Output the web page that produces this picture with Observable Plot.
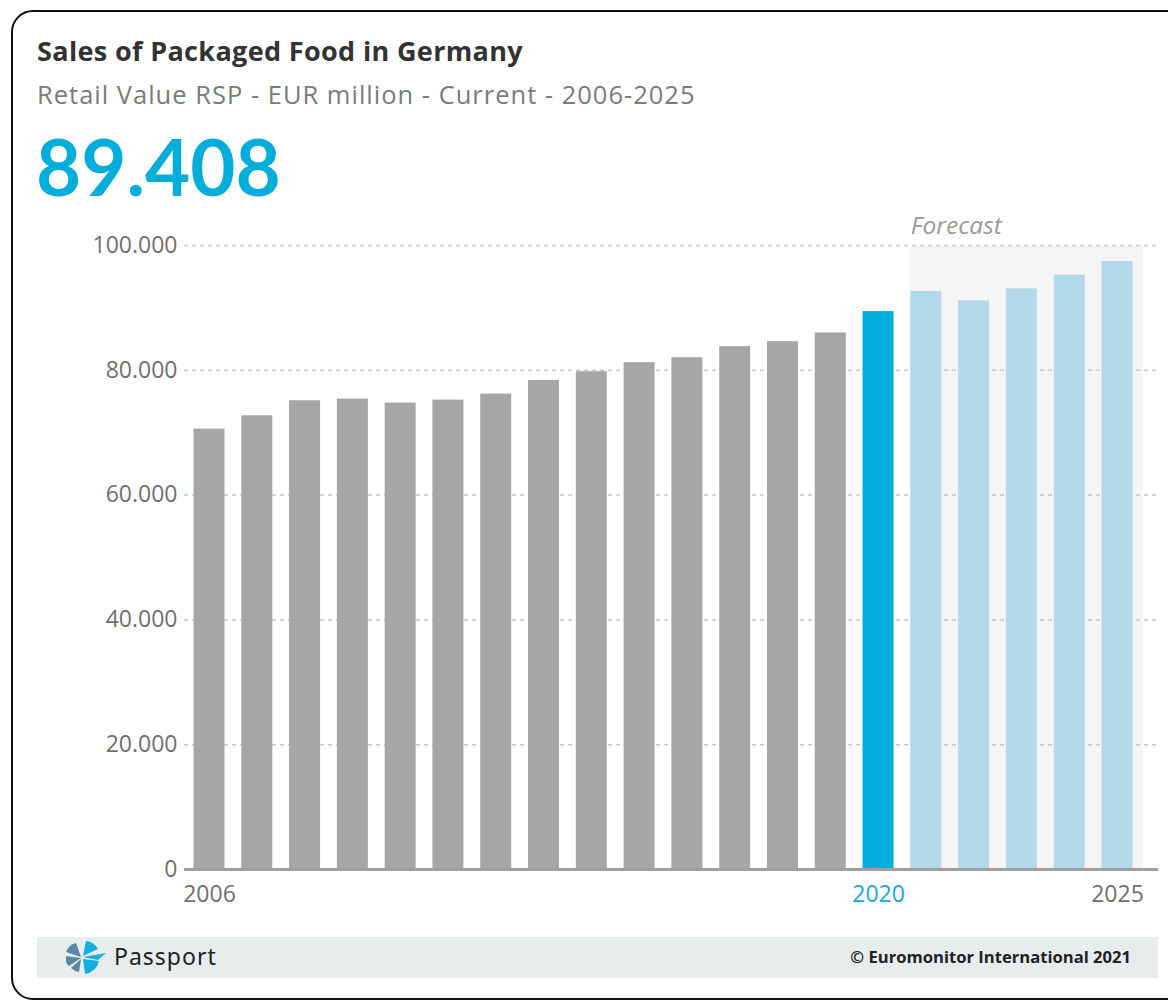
<!DOCTYPE html>
<html>
<head>
<meta charset="utf-8">
<script src="https://cdn.jsdelivr.net/npm/d3@7"></script>
<script src="https://cdn.jsdelivr.net/npm/@observablehq/plot@0.6"></script>
<style>
  html, body { margin: 0; padding: 0; background: #fff; }
  body { width: 1168px; height: 1000px; position: relative; overflow: hidden; font-family: "Open Sans", Lato, sans-serif; }
  .frame { position: absolute; left: 11px; top: 10px; width: 1200px; height: 986px; border: 2px solid #111; border-radius: 22px; }
  .title { position: absolute; left: 37px; top: 33px; font-size: 27px; letter-spacing: 0.35px; font-weight: 700; color: #333; line-height: 36px; white-space: nowrap; }
  .subtitle { position: absolute; left: 37px; top: 77px; font-size: 25.5px; letter-spacing: 1px; color: #7b7b7b; line-height: 34px; white-space: nowrap; }
  .bignum { position: absolute; left: 36px; top: 118px; font-size: 78px; font-weight: 700; color: #00aed9; line-height: 96px; white-space: nowrap; font-family: Lato, sans-serif; }
  #chart { position: absolute; left: 0; top: 200px; }
  .footer { position: absolute; left: 37px; top: 937px; width: 1121px; height: 41px; background: #e7eced; }
  .logo { position: absolute; left: 26px; top: 3px; }
  .passport { position: absolute; left: 77px; top: 4px; font-size: 23px; letter-spacing: 1px; color: #222; line-height: 30px; font-family: "Noto Sans", Lato, sans-serif; }
  .copy { position: absolute; right: 27px; top: 9px; font-size: 16.6px; font-weight: 700; color: #222; line-height: 22px; white-space: nowrap; }
</style>
</head>
<body>
<div class="frame"></div>
<div class="title">Sales of Packaged Food in Germany</div>
<div class="subtitle">Retail Value RSP - EUR million - Current - 2006-2025</div>
<div class="bignum">89.408</div>
<div id="chart"></div>
<div class="footer">
  <svg class="logo" width="44" height="35" viewBox="0 0 44 35">
    <path d="M18,17 L3,12 A15,15 0 0 1 13,3 Z" fill="#5b87a1"/>
    <path d="M18,18 L3,16 L3,22 A15,15 0 0 0 6,26 Z" fill="#5b87a1"/>
    <path d="M18,19 L8,28 A15,15 0 0 0 16,32 Z" fill="#5b87a1"/>
    <path d="M20,16 L23,1 A16,16 0 0 1 35,9 Z" fill="#14aee0"/>
    <path d="M20,17 L43,13 L35,20 Z" fill="#14aee0"/>
    <path d="M20,19 L36,21 A16,16 0 0 1 22,34 Z" fill="#14aee0"/>
  </svg>
  <div class="passport">Passport</div>
  <div class="copy">© Euromonitor International 2021</div>
</div>
<script>
// ---- data ----
const years = [2006, 2007, 2008, 2009, 2010, 2011, 2012, 2013, 2014, 2015, 2016, 2017, 2018, 2019, 2020, 2021, 2022, 2023, 2024, 2025];
const values = [70580, 72710, 75120, 75390, 74750, 75230, 76190, 78380, 79780, 81220, 82020, 83790, 84590, 85990, 89408, 92620, 91120, 93050, 95230, 97430];
const currentYear = 2020;
const forecastStart = 2021;
const yTicks = [0, 20000, 40000, 60000, 80000, 100000];
const xLabelYears = [2006, 2020, 2025];
const forecastLabel = "Forecast";

// ---- style ----
const grey = "#a5a6a8", blue = "#00aedb", light = "#b3d8ea", bgFill = "#f5f5f5";
const half = 0.324;       // half bar width in year units
const bgPadRight = 0.544; // forecast panel extension beyond last bar centre

const rows = years.map((y, i) => ({year: y, value: values[i]}));
const lastYear = years[years.length - 1];
const fmt = d => d === 0 ? "0" : d3.format(",")(d).replace(/,/g, ".");

const plot = Plot.plot({
  width: 1168,
  height: 720,
  marginLeft: 184,
  marginRight: 10,
  marginTop: 45,
  marginBottom: 51,
  style: {color: "#707070", fontFamily: "'Open Sans', Lato, sans-serif", background: "transparent"},
  x: {domain: [2005.477, 2025.858], axis: null},
  y: {domain: [0, 100000], axis: null},
  color: {type: "identity"},
  marks: [
    Plot.rect([{x1: forecastStart - half, x2: lastYear + bgPadRight}], {x1: "x1", x2: "x2", y1: 0, y2: yTicks[yTicks.length - 1], fill: bgFill}),
    Plot.ruleY(yTicks.filter(v => v > 0), {stroke: "#c9c9c9", strokeWidth: 1.5, strokeDasharray: "4,4"}),
    Plot.rectY(rows, {
      x1: d => d.year - half,
      x2: d => d.year + half,
      y: "value",
      fill: d => d.year === currentYear ? blue : d.year >= forecastStart ? light : grey
    }),
    Plot.ruleY([0], {stroke: "#a0a0a0", strokeWidth: 3}),
    Plot.axisY(yTicks, {label: null, tickSize: 0, tickPadding: 7, tickFormat: fmt, fontSize: 23, fill: "#707070"}),
    Plot.text(xLabelYears, {x: d => d, y: 0, dy: 25, text: d => String(d), fontSize: 23, fill: d => d === currentYear ? "#1aa8d6" : "#707070"}),
    Plot.text([forecastLabel], {x: forecastStart - half, y: yTicks[yTicks.length - 1], dy: -19, text: d => d, textAnchor: "start", fontStyle: "italic", fontSize: 24.5, fill: "#9a9a9a"})
  ]
});
document.getElementById("chart").appendChild(plot);
</script>
</body>
</html>
